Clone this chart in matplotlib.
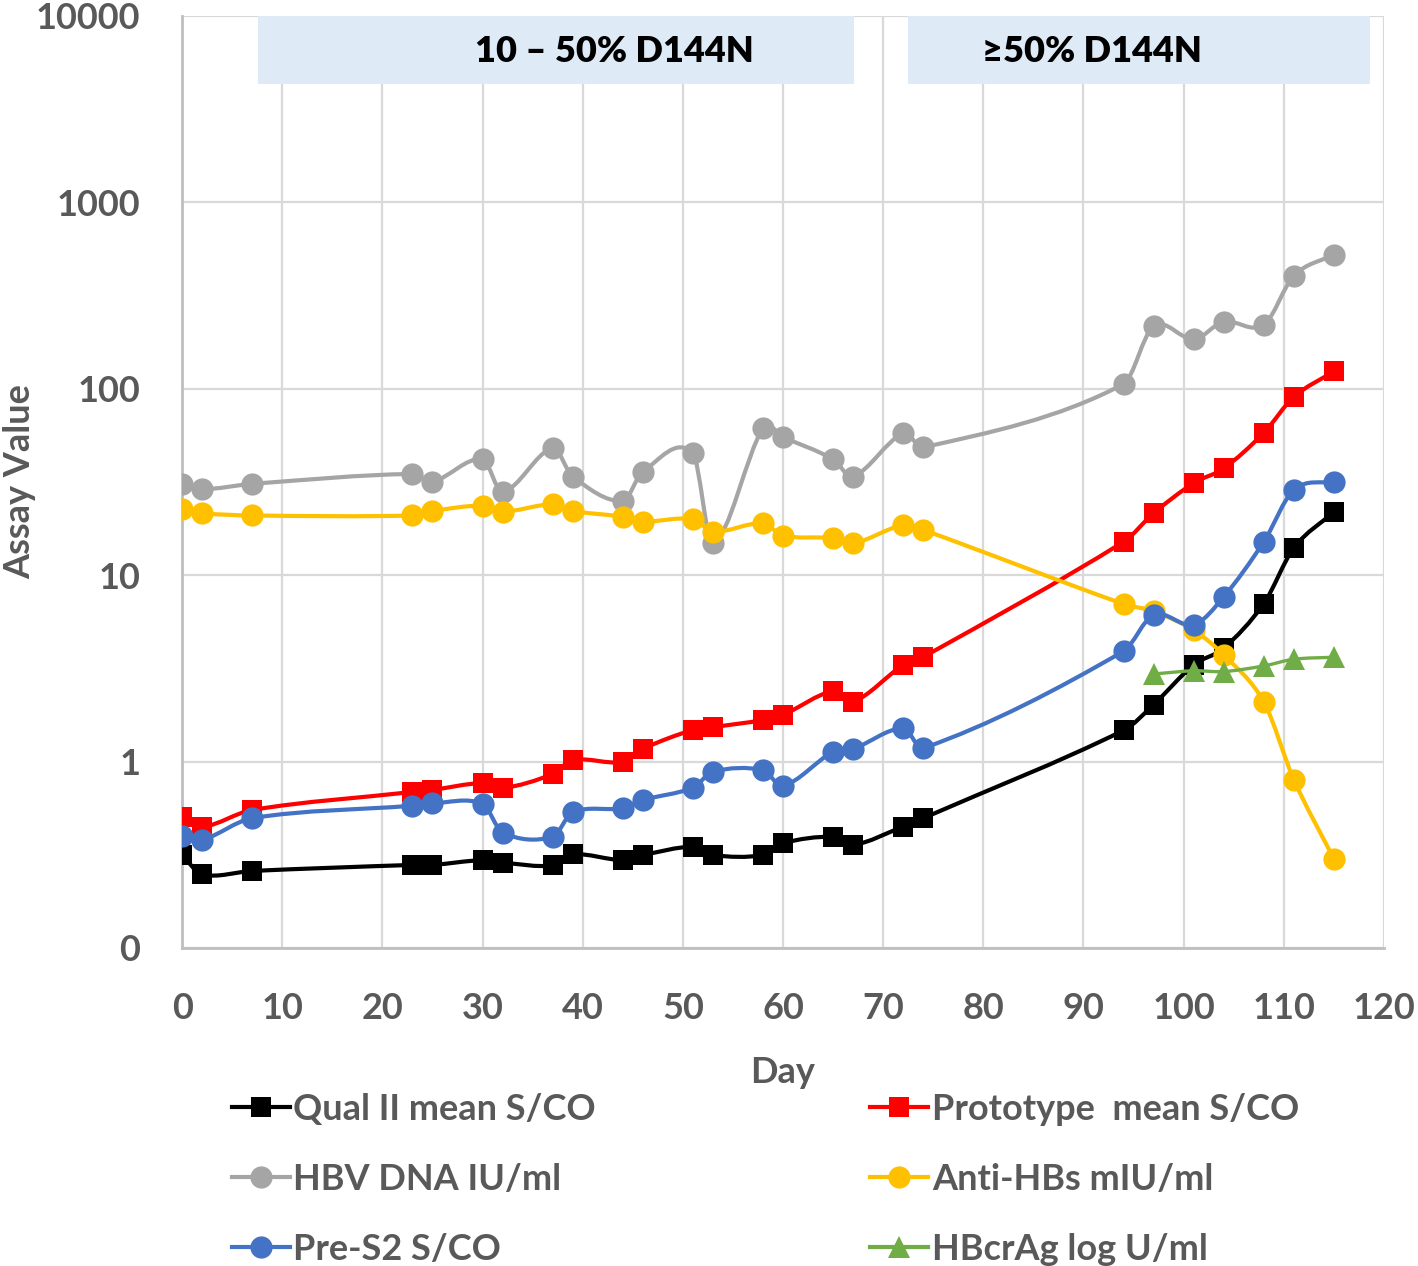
import numpy as np
import matplotlib
matplotlib.use("Agg")
import matplotlib.pyplot as plt
from matplotlib.path import Path
from matplotlib.patches import PathPatch, Rectangle
from matplotlib.lines import Line2D

# ---------------- data ----------------
days = [0, 2, 7, 23, 25, 30, 32, 37, 39, 44, 46, 51, 53, 58, 60, 65, 67, 72, 74,
        94, 97, 101, 104, 108, 111, 115]

qual_ii = [0.315, 0.248, 0.259, 0.279, 0.279, 0.296, 0.287, 0.277, 0.318, 0.296, 0.315,
           0.349, 0.315, 0.315, 0.365, 0.395, 0.357, 0.448, 0.497,
           1.47, 2.02, 3.3, 4.06, 7.04, 14.0, 21.8]
prototype = [0.505, 0.446, 0.55, 0.687, 0.705, 0.767, 0.72, 0.857, 1.02, 0.995, 1.17,
             1.48, 1.53, 1.67, 1.78, 2.39, 2.09, 3.3, 3.64,
             15.1, 21.5, 31.2, 37.4, 58.0, 90.4, 124.0]
hbv_dna = [30.9, 28.9, 30.9, 34.9, 31.7, 41.9, 28.0, 48.0, 33.8, 25.0, 35.9,
           45.1, 14.8, 61.4, 55.0, 41.9, 33.8, 57.7, 48.5,
           106.0, 217.0, 184.0, 229.0, 220.0, 404.0, 524.0]
anti_hbs = [22.6, 21.5, 20.9, 20.9, 22.1, 23.6, 21.9, 24.0, 22.1, 20.6, 19.4,
            20.0, 17.1, 19.0, 16.3, 15.8, 14.8, 18.6, 17.5,
            7.0, 6.4, 5.06, 3.73, 2.09, 0.80, 0.30]
pre_s2 = [0.40, 0.38, 0.497, 0.58, 0.597, 0.593, 0.416, 0.395, 0.535, 0.562, 0.622,
          0.724, 0.883, 0.90, 0.74, 1.13, 1.17, 1.51, 1.18,
          3.91, 6.13, 5.43, 7.65, 15.1, 28.7, 31.8]
hbcrag_days = [97, 101, 104, 108, 111, 115]
hbcrag = [2.95, 3.07, 3.04, 3.26, 3.54, 3.63]

series_labels = ["Qual II mean S/CO", "Prototype  mean S/CO", "HBV DNA IU/ml",
                 "Anti-HBs mIU/ml", "Pre-S2 S/CO", "HBcrAg log U/ml"]
x_ticks = [0, 10, 20, 30, 40, 50, 60, 70, 80, 90, 100, 110, 120]
y_ticks = [0.1, 1, 10, 100, 1000, 10000]
y_tick_labels = ["0", "1", "10", "100", "1000", "10000"]

band_labels = ["10 \u2013 50% D144N", "\u226550% D144N"]
band_ranges = [(7.6, 67.1), (72.5, 118.6)]
band_label_x = [43.2, 90.8]

# ---------------- style ----------------
plt.rcParams['font.family'] = ['Lato', 'DejaVu Sans']
TXT = "#595959"
GRID = "#D9D9D9"
FS = 26

fig = plt.figure(figsize=(14.18, 12.66), dpi=100)
ax = fig.add_axes([0.1284, 0.2512, 0.8476, 0.7362])
ax.set_yscale('log')
ax.set_xlim(0, 120)
ax.set_ylim(0.1, 10000)


def smooth_path(xs, ys):
    """Smoothed line (cubic Bezier, x-proportional tangents) in log-y space."""
    xs = np.asarray(xs, float)
    ly = np.log10(np.asarray(ys, float))
    n = len(xs)
    pts = np.column_stack([xs, ly])
    tang = np.zeros_like(pts)
    for i in range(n):
        a = pts[max(i - 1, 0)]
        b = pts[min(i + 1, n - 1)]
        tang[i] = (b - a) / max(b[0] - a[0], 1e-9)   # slope-normalised (dx = 1)
    verts = [tuple(pts[0])]
    codes = [Path.MOVETO]
    for i in range(n - 1):
        p1, p2 = pts[i], pts[i + 1]
        dx = p2[0] - p1[0]
        c1 = p1 + tang[i] * dx / 3.0
        c2 = p2 - tang[i + 1] * dx / 3.0
        verts += [tuple(c1), tuple(c2), tuple(p2)]
        codes += [Path.CURVE4] * 3
    verts = np.array(verts)
    verts[:, 1] = 10 ** verts[:, 1]
    return Path(verts, codes)


series = [
    (days, qual_ii, "#000000", 's', 15),
    (days, prototype, "#FF0000", 's', 15),
    (days, hbv_dna, "#A5A5A5", 'o', 16),
    (days, anti_hbs, "#FFC000", 'o', 16),
    (days, pre_s2, "#4472C4", 'o', 16),
    (hbcrag_days, hbcrag, "#70AD47", '^', 16),
]

handles = []
z = 3
for (xs, ys, col, mk, ms), lab in zip(series, series_labels):
    lw = 3.0 if mk != '^' else 2.4
    ax.add_patch(PathPatch(smooth_path(xs, ys), facecolor='none', edgecolor=col,
                           lw=lw, zorder=z, capstyle='round', joinstyle='round'))
    ax.plot(xs, ys, linestyle='none', marker=mk, markersize=ms, color=col,
            markeredgewidth=0, zorder=z + 0.5)
    handles.append(Line2D([], [], color=col, lw=3, marker=mk, markersize=ms,
                          markeredgewidth=0, label=lab))
    z += 1

# shaded bands with labels
for (x0, x1), lx, lab in zip(band_ranges, band_label_x, band_labels):
    ax.add_patch(Rectangle((x0, 4315), x1 - x0, 10000 - 4315, facecolor="#DEEBF7",
                           edgecolor='none', zorder=2))
    ax.text(lx, np.sqrt(4315 * 10000) * 0.98, lab, ha='center', va='center',
            fontsize=FS, fontweight='heavy', color='black', zorder=2.5)

# grid and axes
ax.set_xticks(x_ticks)
ax.set_yticks(y_ticks)
ax.set_yticklabels(y_tick_labels)
ax.yaxis.set_minor_locator(matplotlib.ticker.NullLocator())
ax.grid(True, which='major', color=GRID, lw=1.6, zorder=1)
ax.set_axisbelow(True)
for s in ['top', 'right']:
    ax.spines[s].set_visible(False)
for s in ['left', 'bottom']:
    ax.spines[s].set_color("#BFBFBF")
    ax.spines[s].set_linewidth(2)
ax.tick_params(axis='both', length=0, labelsize=FS, labelcolor=TXT)
ax.tick_params(axis='x', pad=32)
ax.tick_params(axis='y', pad=30)
for lbl in ax.get_xticklabels() + ax.get_yticklabels():
    lbl.set_fontweight('bold')

ax.set_xlabel("Day", fontsize=FS, fontweight='bold', color=TXT, labelpad=22)
ax.set_ylabel("Assay Value", fontsize=FS, fontweight='bold', color=TXT)
ax.yaxis.set_label_coords(-0.121, 0.5)

# legend: order so that rows read Qual/Prototype, HBV/Anti, PreS2/HBcrAg
order = [0, 2, 4, 1, 3, 5]
leg = fig.legend([handles[i] for i in order], [series_labels[i] for i in order],
                 ncol=2, loc='upper left', bbox_to_anchor=(0.1636, 0.137),
                 frameon=False, fontsize=FS, handlelength=1.6, handletextpad=0.1,
                 columnspacing=7.6, labelspacing=1.03, borderpad=0,
                 borderaxespad=0)
for t in leg.get_texts():
    t.set_color(TXT)
    t.set_fontweight('bold')

fig.savefig("out.png", dpi=100)
